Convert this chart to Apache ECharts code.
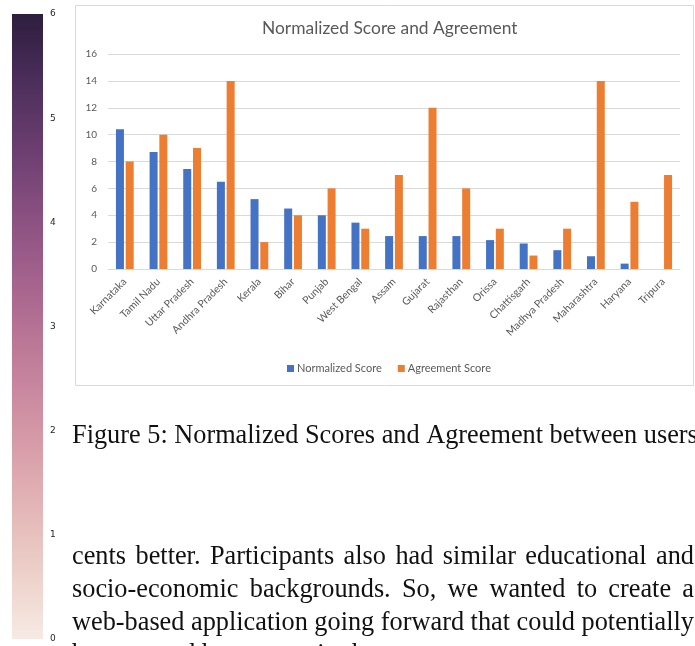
<!DOCTYPE html>
<html>
<head>
<meta charset="utf-8">
<script src="https://cdn.jsdelivr.net/npm/echarts@6/dist/echarts.min.js"></script>
<style>
  html, body { margin: 0; padding: 0; background: #ffffff; }
  #main { width: 695px; height: 646px; }
</style>
</head>
<body>
<div id="main"></div>
<script>
// States, in the order they appear on the category axis
const states = [
  'Karnataka', 'Tamil Nadu', 'Uttar Pradesh', 'Andhra Pradesh', 'Kerala',
  'Bihar', 'Punjab', 'West Bengal', 'Assam', 'Gujarat', 'Rajasthan',
  'Orissa', 'Chattisgarh', 'Madhya Pradesh', 'Maharashtra', 'Haryana', 'Tripura'
];

// Normalized score per state
const normalizedScore = [
  10.4, 8.7, 7.45, 6.5, 5.2, 4.5, 4.0, 3.45, 2.45, 2.45, 2.45,
  2.15, 1.9, 1.4, 0.95, 0.4, 0
];

// Agreement score per state
const agreementScore = [
  8, 10, 9, 14, 2, 4, 6, 3, 7, 12, 6, 3, 1, 3, 14, 5, 7
];

// Value range of the colour scale strip on the left
const colorbarMin = 0;
const colorbarMax = 6;

// Caption and running text below the figure
const captionText = 'Figure 5: Normalized Scores and Agreement between users';
const bodyLines = [
  'cents better.  Participants also had similar educational and',
  'socio-economic backgrounds.  So, we wanted to create a',
  'web-based application going forward that could potentially',
  'be accessed by anyone in the country.'
];

// cubehelix colour map (light -> dark) for the colour strip
function cubehelix(x) {
  const start = 0, rot = 0.4, hue = 0.8;
  const phi = 2 * Math.PI * (start / 3 + rot * x);
  const amp = hue * x * (1 - x) / 2;
  const c = Math.cos(phi), s = Math.sin(phi);
  const r = x + amp * (-0.14861 * c + 1.78277 * s);
  const g = x + amp * (-0.29227 * c - 0.90649 * s);
  const b = x + amp * (1.97294 * c);
  const h = v => Math.round(Math.max(0, Math.min(1, v)) * 255).toString(16).padStart(2, '0');
  return '#' + h(r) + h(g) + h(b);
}
const light = 0.93, dark = 0.15;
const stops = [];
for (let i = 0; i <= 24; i++) {
  const t = i / 24;
  stops.push({ offset: t, color: cubehelix(light + (dark - light) * t) });
}

const chart = echarts.init(document.getElementById('main'), null, { renderer: 'canvas' });

// Lay out justified body lines word by word
const serif = "'Liberation Serif', 'Times New Roman', serif";
const bodySize = 26.3;
const measureCtx = document.createElement('canvas').getContext('2d');
measureCtx.font = bodySize + 'px ' + serif;
const textLeft = 72, textRight = 694;
const graphics = [];

graphics.push({
  type: 'rect', silent: true,
  shape: { x: 75.5, y: 5.5, width: 618, height: 380 },
  style: { fill: 'none', stroke: '#d9d9d9', lineWidth: 1 }
});

graphics.push({
  type: 'text', silent: true, x: textLeft, y: 436,
  style: { text: captionText, font: bodySize + 'px ' + serif, fill: '#111111', verticalAlign: 'middle', align: 'left' }
});

const bodyY = [557, 589.8, 622.6, 655.5];
bodyLines.forEach((line, li) => {
  const words = line.split(/\s+/);
  const widths = words.map(w => measureCtx.measureText(w).width);
  const total = widths.reduce((a, b) => a + b, 0);
  const justify = li < bodyLines.length - 1;
  const gap = justify ? (textRight - textLeft - total) / (words.length - 1) : measureCtx.measureText(' ').width;
  let x = textLeft;
  words.forEach((w, i) => {
    graphics.push({
      type: 'text', silent: true, x: x, y: bodyY[li],
      style: { text: w, font: bodySize + 'px ' + serif, fill: '#111111', verticalAlign: 'middle', align: 'left' }
    });
    x += widths[i] + gap;
  });
});

const sans = "Lato, 'Open Sans', sans-serif";

chart.setOption({
  animation: false,
  backgroundColor: '#ffffff',
  title: {
    text: 'Normalized Score and Agreement',
    left: 257, top: 15,
    textStyle: { fontFamily: sans, fontSize: 17.4, fontWeight: 'normal', color: '#595959' }
  },
  legend: {
    data: ['Normalized Score', 'Agreement Score'],
    left: 282, top: 358,
    icon: 'rect', itemWidth: 7, itemHeight: 7, itemGap: 16,
    textStyle: { fontFamily: sans, fontSize: 11, color: '#595959', padding: [0, 0, 0, -2] }
  },
  grid: [
    { left: 108, right: 15, top: 54, bottom: 377 },
    { left: 12, top: 14, width: 31, height: 625 }
  ],
  xAxis: [
    {
      type: 'category', gridIndex: 0, data: states,
      axisLine: { lineStyle: { color: '#d9d9d9' } },
      axisTick: { show: false },
      axisLabel: { rotate: 45, interval: 0, margin: 11, fontFamily: sans, fontSize: 10.5, color: '#595959' }
    },
    { type: 'category', gridIndex: 1, data: ['scale'], show: false }
  ],
  yAxis: [
    {
      type: 'value', gridIndex: 0, min: 0, max: 16, interval: 2,
      axisLine: { show: false }, axisTick: { show: false },
      axisLabel: { margin: 11, fontFamily: sans, fontSize: 10, color: '#595959' },
      splitLine: { lineStyle: { color: '#d9d9d9' } }
    },
    {
      type: 'value', gridIndex: 1, min: colorbarMin, max: colorbarMax, interval: 1, position: 'right',
      axisLine: { show: false }, axisTick: { show: false }, splitLine: { show: false },
      axisLabel: { margin: 7, fontFamily: "'DejaVu Sans', sans-serif", fontSize: 9, color: '#262626', padding: [4, 0, 0, 0] }
    }
  ],
  series: [
    {
      name: 'Normalized Score', type: 'bar', data: normalizedScore,
      barWidth: 8, barGap: '22%', itemStyle: { color: '#4472c4' }
    },
    {
      name: 'Agreement Score', type: 'bar', data: agreementScore,
      barWidth: 8, itemStyle: { color: '#ed7d31' }
    },
    {
      name: 'scale', type: 'bar', xAxisIndex: 1, yAxisIndex: 1, silent: true,
      data: [colorbarMax], barWidth: '100%',
      itemStyle: { color: new echarts.graphic.LinearGradient(0, 1, 0, 0, stops) }
    }
  ],
  graphic: graphics
});
</script>
</body>
</html>
